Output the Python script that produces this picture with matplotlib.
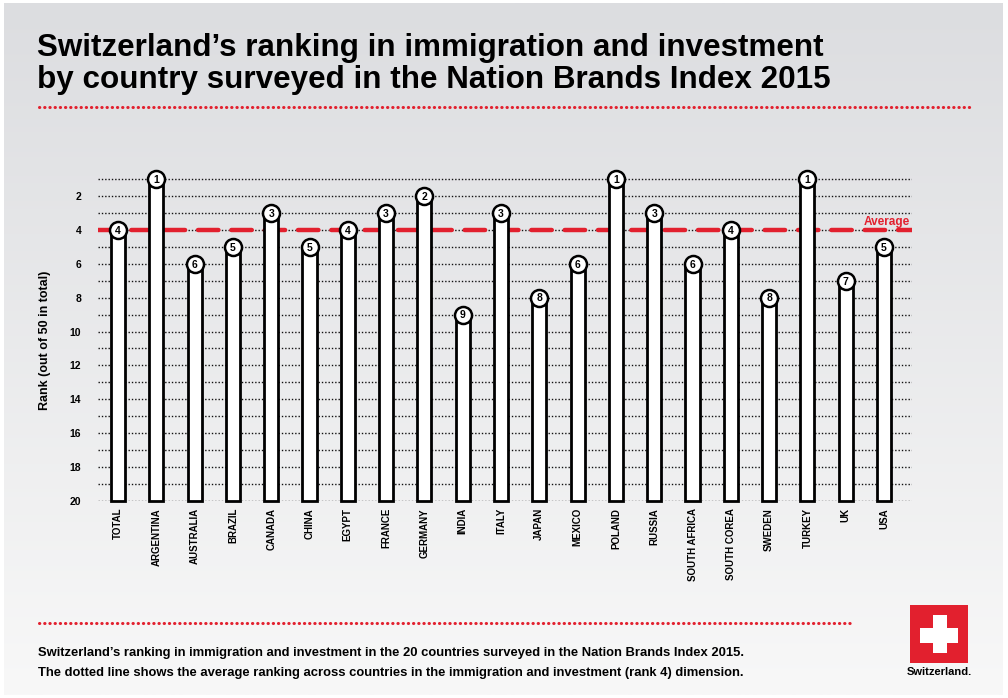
import numpy as np
import matplotlib.pyplot as plt
from matplotlib.patches import Rectangle

# dados
countries = ['TOTAL', 'ARGENTINA', 'AUSTRALIA', 'BRAZIL', 'CANADA', 'CHINA', 'EGYPT',
             'FRANCE', 'GERMANY', 'INDIA', 'ITALY', 'JAPAN', 'MEXICO', 'POLAND', 'RUSSIA',
             'SOUTH AFRICA', 'SOUTH COREA', 'SWEDEN', 'TURKEY', 'UK', 'USA']
ranks = [4, 1, 6, 5, 3, 5, 4, 3, 2, 9, 3, 8, 6, 1, 3, 6, 4, 8, 1, 7, 5]
average = 4
ytick_vals = [2, 4, 6, 8, 10, 12, 14, 16, 18, 20]

W, H = 1008, 698
red = '#e2202e'
narrow = ['Liberation Sans Narrow', 'Liberation Sans', 'DejaVu Sans']
plt.rcParams['font.family'] = ['Liberation Sans', 'DejaVu Sans']

def fx(x):  # pixel -> fração da figura
    return x / W

def fy(y):
    return 1 - y / H

fig = plt.figure(figsize=(W / 100, H / 100), dpi=100)
fig.patch.set_facecolor('white')

# fundo em gradiente
bg = fig.add_axes([fx(4), fy(695), fx(1003) - fx(4), fy(3) - fy(695)], zorder=-10)
grad = np.linspace(0, 1, 256).reshape(-1, 1)
c_top = np.array([220, 221, 224]) / 255
c_bot = np.array([248, 248, 248]) / 255
img = c_top + (c_bot - c_top) * grad[:, :, None]
bg.imshow(img, aspect='auto', extent=[0, 1, 0, 1])
bg.set_axis_off()

# eixo principal
x0, x1 = 98, 912
ypx20, ypx1 = 501, 179
per = (ypx20 - ypx1) / 19
ytop = 0.45
ax = fig.add_axes([fx(x0), fy(ypx20), fx(x1) - fx(x0), (ypx20 - (ypx1 - (1 - ytop) * per)) / H])
ax.set_facecolor('none')
step = (884 - 118) / 20
ax.set_xlim((x0 - 118) / step, (x1 - 118) / step)
ax.set_ylim(20, ytop)
for s in ax.spines.values():
    s.set_visible(False)

xs = np.arange(len(countries))
ax.hlines(np.arange(1, 21), (x0 - 118) / step, (x1 - 118) / step, colors='#111111',
          linestyles=(0, (1, 1.4)), linewidth=1.0, zorder=1)
ax.plot([(x0 - 118) / step, (x1 - 118) / step], [average, average], color=red,
        linewidth=3.2, dashes=(4.6, 2.9), solid_capstyle='round', dash_capstyle='round', zorder=2)
ax.text((x1 - 118) / step - 0.05, average - 0.28, 'Average', color=red, fontsize=8.5,
        fontweight='bold', ha='right', va='baseline')

ax.bar(xs, [20 - r for r in ranks], bottom=ranks, width=0.37, color='white',
       edgecolor='black', linewidth=2, zorder=3, clip_on=False)
ax.scatter(xs, ranks, s=150, facecolor='white', edgecolor='black', linewidth=1.8,
           zorder=4, clip_on=False)
for x, r in zip(xs, ranks):
    ax.text(x, r + 0.05, str(r), ha='center', va='center', fontsize=7.5,
            fontweight='bold', zorder=5, family=narrow)

ax.set_yticks(ytick_vals)
ax.set_yticklabels([str(v) for v in ytick_vals], fontsize=7.5, fontweight='bold')
ax.set_xticks(xs)
ax.set_xticklabels(countries, rotation=90, fontsize=7, fontweight='bold', family=narrow)
ax.tick_params(axis='both', length=0)
ax.tick_params(axis='y', pad=12)
ax.tick_params(axis='x', pad=5)
fig.text(fx(45), fy(340), 'Rank (out of 50 in total)', rotation=90, ha='center',
         va='center', fontsize=9, fontweight='bold')

# título
fig.text(fx(37), fy(56), "Switzerland\u2019s ranking in immigration and investment",
         fontsize=22.6, fontweight='bold', ha='left', va='baseline')
fig.text(fx(37), fy(88), 'by country surveyed in the Nation Brands Index 2015',
         fontsize=22.6, fontweight='bold', ha='left', va='baseline')

# linhas pontilhadas vermelhas
for (a, b, y) in [(39, 970, 107), (39, 850, 623)]:
    fig.add_artist(plt.Line2D([fx(a), fx(b)], [fy(y), fy(y)], color=red, linewidth=2.2,
                              linestyle=(0, (0.1, 1.6)), dash_capstyle='round'))

# legenda de baixo
fig.text(fx(38), fy(656), "Switzerland\u2019s ranking in immigration and investment in the 20 countries surveyed in the Nation Brands Index 2015.",
         fontsize=9.4, fontweight='bold', ha='left', va='baseline', family=narrow)
fig.text(fx(38), fy(676), 'The dotted line shows the average ranking across countries in the immigration and investment (rank 4) dimension.',
         fontsize=9.4, fontweight='bold', ha='left', va='baseline', family=narrow)

# logo
fig.add_artist(Rectangle((fx(910), fy(663)), fx(58), 58 / H, transform=fig.transFigure,
                         facecolor=red, edgecolor='none'))
fig.add_artist(Rectangle((fx(920), fy(643)), fx(38), 15 / H, transform=fig.transFigure,
                         facecolor='white', edgecolor='none'))
fig.add_artist(Rectangle((fx(933), fy(653)), fx(14), 38 / H, transform=fig.transFigure,
                         facecolor='white', edgecolor='none'))
fig.text(fx(939), fy(672), 'Switzerland.', fontsize=8, fontweight='bold', ha='center',
         va='center', family=narrow)

fig.savefig('out.png', dpi=100)
